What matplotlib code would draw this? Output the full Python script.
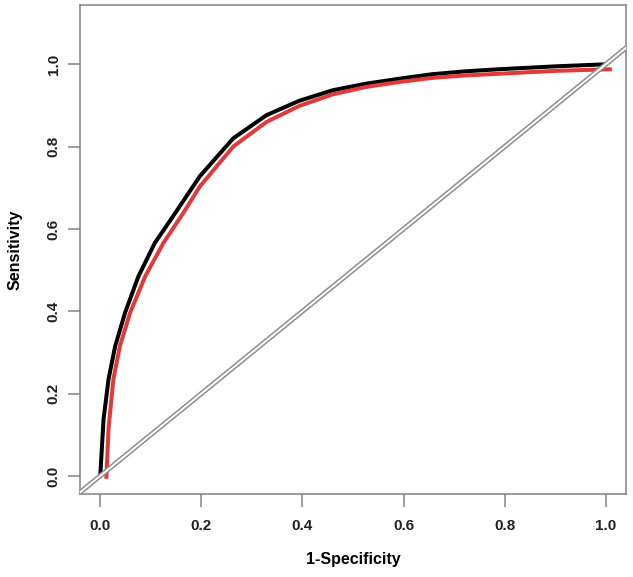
import matplotlib
matplotlib.use("Agg")
import matplotlib.pyplot as plt

plt.rcParams['font.family'] = ['Liberation Sans', 'DejaVu Sans']

# ROC curves (1-specificity, sensitivity)
black_fpr = [0.0, 0.0066, 0.0164, 0.0296, 0.049, 0.0756, 0.108, 0.148, 0.197,
             0.263, 0.329, 0.394, 0.46, 0.526, 0.592, 0.657, 0.723, 0.789, 0.9, 1.0]
black_tpr = [0.0, 0.138, 0.235, 0.3155, 0.396, 0.485, 0.566, 0.638, 0.728,
             0.82, 0.8765, 0.9115, 0.937, 0.953, 0.965, 0.976, 0.983, 0.988, 0.995, 1.0]

red_fpr = [0.012, 0.0164, 0.026, 0.039, 0.059, 0.089, 0.125, 0.164, 0.197,
           0.263, 0.329, 0.394, 0.46, 0.526, 0.592, 0.657, 0.723, 0.789, 0.9, 1.012]
red_tpr = [-0.007, 0.114, 0.235, 0.3155, 0.396, 0.485, 0.566, 0.638, 0.703,
           0.80, 0.86, 0.899, 0.927, 0.945, 0.957, 0.967, 0.973, 0.977, 0.984, 0.988]

ticks = [0.0, 0.2, 0.4, 0.6, 0.8, 1.0]
tick_labels = ["0.0", "0.2", "0.4", "0.6", "0.8", "1.0"]

fig = plt.figure(figsize=(6.33, 5.77), dpi=100)
ax = fig.add_axes([0.1264, 0.1438, 0.8626, 0.8475])

px = 72.0 / 100  # points per pixel
ax.plot(black_fpr, black_tpr, color='black', lw=4 * px, solid_capstyle='butt',
        solid_joinstyle='round', zorder=3)
ax.plot(red_fpr, red_tpr, color='#e03a3a', lw=4 * px, solid_capstyle='butt',
        solid_joinstyle='round', zorder=4)

# double grey diagonal
ax.axline((0, 0), slope=1, color='#8c8c8c', lw=5 * px, zorder=5)
ax.axline((0, 0), slope=1, color='white', lw=2 * px, zorder=6)

ax.set_xlim(-0.04, 1.04)
ax.set_ylim(-0.044, 1.144)

ax.set_xticks(ticks)
ax.set_xticklabels(tick_labels)
ax.set_yticks(ticks)
ax.set_yticklabels(tick_labels, rotation=90, va='center')

for s in ax.spines.values():
    s.set_color('#808080')
    s.set_linewidth(1.5 * px)
ax.tick_params(direction='out', length=9, width=1.5 * px, color='#808080',
               labelsize=11, labelcolor='#222222')
ax.tick_params(axis='x', pad=9)
ax.tick_params(axis='y', pad=5)
for lab in ax.get_xticklabels() + ax.get_yticklabels():
    lab.set_fontweight('bold')

ax.set_xlabel("1-Specificity", fontsize=11.5, fontweight='bold', labelpad=14)
ax.set_ylabel("Sensitivity", fontsize=11.5, fontweight='bold', labelpad=17)

fig.savefig("out.png", dpi=100)
